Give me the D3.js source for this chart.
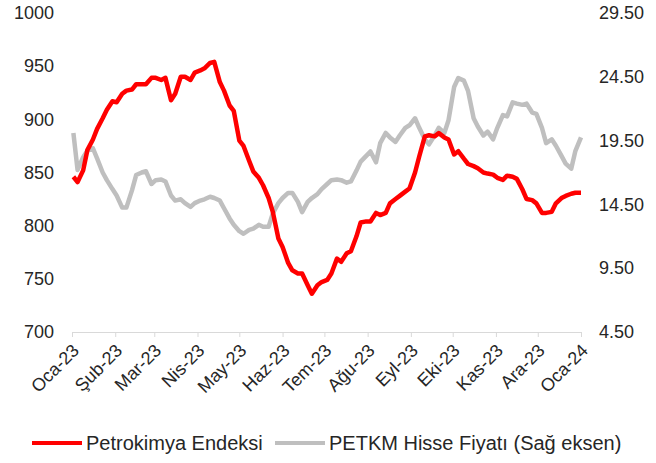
<!DOCTYPE html>
<html>
<head>
<meta charset="utf-8">
<script src="https://cdn.jsdelivr.net/npm/d3@7"></script>
<style>
  body { margin: 0; background: #fff; }
  text { font-family: "Liberation Sans", Arial, sans-serif; fill: #262626; }
</style>
</head>
<body>
<div id="chart"></div>
<script>
// twice a week readings, 2023
var dates = ["2023-01-02","2023-01-05","2023-01-09","2023-01-12","2023-01-16","2023-01-19","2023-01-23","2023-01-26","2023-01-30",
  "2023-02-02","2023-02-06","2023-02-09","2023-02-13","2023-02-16","2023-02-20","2023-02-23","2023-02-27",
  "2023-03-02","2023-03-06","2023-03-09","2023-03-13","2023-03-16","2023-03-20","2023-03-23","2023-03-27","2023-03-30",
  "2023-04-03","2023-04-06","2023-04-10","2023-04-13","2023-04-17","2023-04-20","2023-04-24","2023-04-27",
  "2023-05-01","2023-05-04","2023-05-08","2023-05-11","2023-05-15","2023-05-18","2023-05-22","2023-05-25","2023-05-29",
  "2023-06-01","2023-06-05","2023-06-08","2023-06-12","2023-06-15","2023-06-19","2023-06-22","2023-06-26","2023-06-29",
  "2023-07-03","2023-07-06","2023-07-10","2023-07-13","2023-07-17","2023-07-20","2023-07-24","2023-07-27","2023-07-31",
  "2023-08-03","2023-08-07","2023-08-10","2023-08-14","2023-08-17","2023-08-21","2023-08-24","2023-08-28","2023-08-31",
  "2023-09-04","2023-09-07","2023-09-11","2023-09-14","2023-09-18","2023-09-21","2023-09-25","2023-09-28",
  "2023-10-02","2023-10-05","2023-10-09","2023-10-12","2023-10-16","2023-10-19","2023-10-23","2023-10-26","2023-10-30",
  "2023-11-02","2023-11-06","2023-11-09","2023-11-13","2023-11-16","2023-11-20","2023-11-23","2023-11-27","2023-11-30",
  "2023-12-04","2023-12-07","2023-12-11","2023-12-14","2023-12-18","2023-12-21","2023-12-25","2023-12-28","2024-01-01"];

// Petrokimya Endeksi (left axis)
var endeks = [846,841,852,871,881,891,901,909,917,
  916,924,927,928,933,933,933,939,
  939,937,939,918,924,940,940,937,944,
  946,948,953,954,935,927,913,908,
  880,875,861,851,845,838,826,813,788,
  780,765,758,755,755,744,736,744,747,
  749,755,769,766,774,776,790,803,804,
  804,812,810,812,821,825,828,832,835,
  850,865,884,885,884,887,883,881,
  867,870,863,858,856,854,850,849,848,
  845,843,847,846,844,834,825,824,821,
  812,812,813,821,826,828,830,831,831];

// PETKM hisse fiyati (right axis)
var petkm = [20.1,17.2,18.2,18.7,18.9,18.1,17.0,16.4,15.7,
  15.2,14.25,14.25,15.6,16.8,17.0,17.1,16.1,
  16.4,16.45,16.3,15.2,14.8,14.9,14.6,14.3,14.6,
  14.8,14.9,15.1,15.0,14.8,14.2,13.4,12.9,
  12.4,12.2,12.5,12.6,12.9,12.75,12.75,13.8,14.6,
  15.0,15.4,15.4,14.7,13.9,14.7,15.0,15.3,15.7,
  16.1,16.4,16.45,16.4,16.2,16.3,17.15,17.85,18.3,
  18.65,17.8,19.3,20.1,19.75,19.4,19.9,20.5,20.7,
  21.25,20.5,19.6,19.2,19.9,20.5,20.1,21.1,
  23.7,24.4,24.2,23.4,21.25,20.6,19.9,20.2,19.6,
  20.5,21.5,21.4,22.5,22.4,22.3,22.4,21.7,21.6,
  20.5,19.3,19.6,19.1,18.3,17.7,17.3,18.7,19.75];

var leftTicks = [700,750,800,850,900,950,1000];
var rightTicks = [4.5,9.5,14.5,19.5,24.5,29.5];
var monthLabels = ["Oca-23","Şub-23","Mar-23","Nis-23","May-23","Haz-23","Tem-23",
  "Ağu-23","Eyl-23","Eki-23","Kas-23","Ara-23","Oca-24"];
var seriesNames = ["Petrokimya Endeksi","PETKM Hisse Fiyatı (Sağ eksen)"];

var parse = d3.timeParse("%Y-%m-%d");
var days = dates.map(parse);

var svg = d3.select("#chart").append("svg")
  .attr("width", 656)
  .attr("height", 463);

var x = d3.scaleTime()
  .domain([parse("2023-01-01"), parse("2024-01-01")])
  .range([72, 581]);
var yLeft = d3.scaleLinear().domain([700, 1000]).range([332, 13]);
var yRight = d3.scaleLinear().domain([4.5, 29.5]).range([332, 13]);

// x axis
var monthTicks = d3.timeMonth.range(parse("2023-01-01"), parse("2024-01-02"));
var xAxis = d3.axisBottom(x)
  .tickValues(monthTicks)
  .tickSize(5)
  .tickFormat(function(d, i) { return monthLabels[i]; });
var gx = svg.append("g")
  .attr("transform", "translate(0,332)")
  .call(xAxis);
gx.selectAll("path, line").attr("stroke", "#d9d9d9");
gx.selectAll("text")
  .attr("font-size", 18)
  .attr("fill", "#262626")
  .attr("text-anchor", "end")
  .attr("dx", 0).attr("dy", 0)
  .attr("transform", "translate(2,14) rotate(-45)");

// left axis (labels only)
var gl = svg.append("g")
  .attr("transform", "translate(54,0)")
  .call(d3.axisLeft(yLeft).tickValues(leftTicks).tickSize(0).tickPadding(0)
    .tickFormat(d3.format("d")));
gl.select(".domain").remove();
gl.selectAll("text").attr("font-size", 18).attr("fill", "#262626");

// right axis (labels only)
var gr = svg.append("g")
  .attr("transform", "translate(599,0)")
  .call(d3.axisRight(yRight).tickValues(rightTicks).tickSize(0).tickPadding(0)
    .tickFormat(d3.format(".2f")));
gr.select(".domain").remove();
gr.selectAll("text").attr("font-size", 18).attr("fill", "#262626");

// lines, gray first so red sits on top
var grayLine = d3.line()
  .x(function(d, i) { return x(days[i]); })
  .y(function(d) { return yRight(d); });
var redLine = d3.line()
  .x(function(d, i) { return x(days[i]); })
  .y(function(d) { return yLeft(d); });

svg.append("path")
  .datum(petkm)
  .attr("d", grayLine)
  .attr("fill", "none")
  .attr("stroke", "#bfbfbf")
  .attr("stroke-width", 4.5)
  .attr("stroke-linejoin", "round");

svg.append("path")
  .datum(endeks)
  .attr("d", redLine)
  .attr("fill", "none")
  .attr("stroke", "#ff0000")
  .attr("stroke-width", 4.5)
  .attr("stroke-linejoin", "round");

// legend
var legend = [
  { name: seriesNames[0], color: "#ff0000", x: 32 },
  { name: seriesNames[1], color: "#bfbfbf", x: 275 }
];
var lg = svg.selectAll(".legend").data(legend).enter().append("g")
  .attr("class", "legend")
  .attr("transform", function(d) { return "translate(" + d.x + ",443)"; });
lg.append("line")
  .attr("x1", 0).attr("x2", 50)
  .attr("stroke", function(d) { return d.color; })
  .attr("stroke-width", 4);
lg.append("text")
  .attr("x", 54)
  .attr("y", 7)
  .attr("font-size", 20)
  .text(function(d) { return d.name; });
</script>
</body>
</html>
